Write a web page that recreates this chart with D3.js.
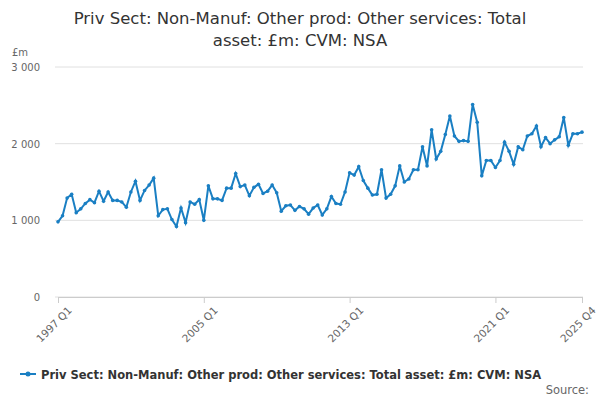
<!DOCTYPE html>
<html><head><meta charset="utf-8">
<script src="https://cdn.jsdelivr.net/npm/d3@7"></script>
<style>body{margin:0;font-family:"DejaVu Sans",Verdana,sans-serif;}</style>
</head><body><div id="chart"></div>
<script>
const startYear = 1997, endYear = 2025;
const tickLabels = ["1997 Q1", "2005 Q1", "2013 Q1", "2021 Q1", "2025 Q4"];
const yTicks = [0, 1000, 2000, 3000];
const values = [
  980,1060,1290,1340, 1100,1150,1220,1270, 1230,1380,1250,1370, 1260,1260,1240,1170,
  1370,1510,1260,1390, 1460,1550,1060,1140, 1150,1010,920,1160, 970,1240,1210,1270,
  1000,1450,1280,1280, 1260,1420,1420,1610, 1440,1460,1320,1430, 1470,1350,1380,1460,
  1360,1120,1190,1200, 1130,1180,1150,1080, 1160,1200,1070,1150, 1310,1220,1210,1370,
  1620,1590,1700,1520, 1420,1330,1340,1660, 1290,1340,1450,1710, 1500,1540,1660,1660,
  1960,1710,2180,1800, 1900,2120,2360,2100, 2030,2040,2030,2510, 2280,1580,1780,1780,
  1690,1780,2020,1900, 1730,1960,1920,2100, 2130,2230,1960,2080, 2000,2050,2090,2340,
  1980,2130,2130,2150
];
const labels = [];
for (let y = startYear; y <= endYear; y++) for (let q = 1; q <= 4; q++) labels.push(y + " Q" + q);
const data = labels.map((l, i) => ({label: l, value: values[i]}));

const width = 600, height = 400;
const margin = {left: 58, right: 18, top: 67, bottom: 103};
const color = "#1a7fc3";
const font = "DejaVu Sans, Verdana, sans-serif";

const svg = d3.select("#chart").append("svg").attr("width", width).attr("height", height)
  .attr("font-family", font);

svg.append("text").attr("x", 300).attr("y", 24).attr("text-anchor", "middle")
  .attr("font-size", 16.5).attr("fill", "#333").text("Priv Sect: Non-Manuf: Other prod: Other services: Total");
svg.append("text").attr("x", 300).attr("y", 46).attr("text-anchor", "middle")
  .attr("font-size", 16.5).attr("fill", "#333").text("asset: £m: CVM: NSA");
svg.append("text").attr("x", 12).attr("y", 56).attr("font-size", 10).attr("fill", "#666").text("£m");

const x = d3.scalePoint().domain(labels).range([margin.left, width - margin.right]);
const y = d3.scaleLinear().domain([0, 3000]).range([height - margin.bottom, margin.top]);

svg.append("g").selectAll("line").data(yTicks).join("line")
  .attr("x1", margin.left - 3).attr("x2", width - margin.right + 1)
  .attr("y1", d => y(d)).attr("y2", d => y(d))
  .attr("stroke", "#e0e0e0");

const fmt = d => d === 0 ? "0" : d3.format(",")(d).replace(",", " ");
svg.append("g").selectAll("text").data(yTicks).join("text")
  .attr("x", 40).attr("y", d => y(d) + 4).attr("text-anchor", "end")
  .attr("font-size", 10).attr("fill", "#666").text(fmt);

const xAxis = svg.append("g").attr("transform", `translate(0,${height - margin.bottom})`)
  .call(d3.axisBottom(x).tickValues(tickLabels).tickSize(6));
xAxis.select(".domain").attr("stroke", "#ccc");
xAxis.selectAll(".tick line").attr("stroke", "#ccc");
xAxis.selectAll(".tick text").attr("font-size", 10.5).attr("fill", "#666")
  .attr("font-family", font)
  .attr("text-anchor", "end").attr("transform", "translate(4,4) rotate(-45)").attr("dy", "0.5em");

const line = d3.line().x(d => x(d.label)).y(d => y(d.value));
svg.append("path").datum(data).attr("d", line).attr("fill", "none")
  .attr("stroke", color).attr("stroke-width", 2);
svg.append("g").selectAll("circle").data(data).join("circle")
  .attr("cx", d => x(d.label)).attr("cy", d => y(d.value)).attr("r", 1.8).attr("fill", color);

const lg = svg.append("g").attr("transform", "translate(20,374)");
lg.append("line").attr("x1", 0).attr("x2", 16).attr("y1", 0).attr("y2", 0).attr("stroke", color).attr("stroke-width", 2);
lg.append("circle").attr("cx", 8).attr("cy", 0).attr("r", 2.5).attr("fill", color);
lg.append("text").attr("x", 21).attr("y", 4.5).attr("font-size", 11.5).attr("font-weight", "bold")
  .attr("fill", "#333").text("Priv Sect: Non-Manuf: Other prod: Other services: Total asset: £m: CVM: NSA");
svg.append("text").attr("x", 589).attr("y", 394).attr("text-anchor", "end")
  .attr("font-size", 11.5).attr("fill", "#666").text("Source:");
</script></body></html>
